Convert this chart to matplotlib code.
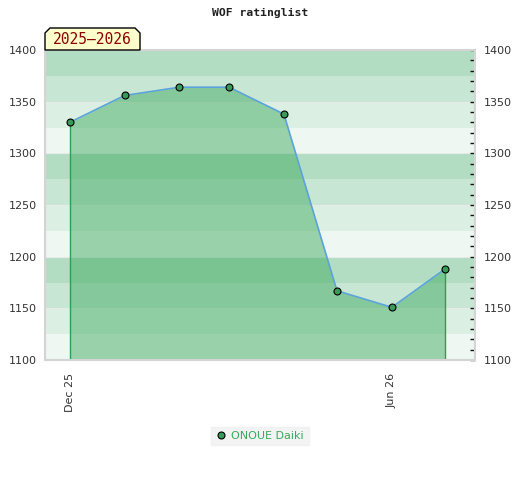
import datetime as dt
import matplotlib
matplotlib.use("Agg")
import matplotlib.pyplot as plt
import matplotlib.dates as mdates
from matplotlib.patches import Polygon
from matplotlib.ticker import MultipleLocator

# datos de la grafica
fechas = [dt.date(2025, 12, 1), dt.date(2026, 1, 1), dt.date(2026, 2, 1), dt.date(2026, 3, 1),
          dt.date(2026, 4, 1), dt.date(2026, 5, 1), dt.date(2026, 6, 1), dt.date(2026, 7, 1)]
rating = [1330, 1356, 1364, 1364, 1338, 1167, 1151, 1188]
jugador = "ONOUE Daiki"
temporada = "2025\u20132026"
titulo = "WOF ratinglist"
ymin, ymax = 1100, 1400
xmin, xmax = dt.date(2025, 11, 17), dt.date(2026, 7, 18)

colores_banda = {75: "#b3ddc3", 50: "#c8e6d4", 25: "#dcefe3", 0: "#eff7f2"}
verde = "#3aa85b"
azul = "#5ba3d9"

fig = plt.figure(figsize=(5.2, 4.8), dpi=100)
ax = fig.add_axes([45 / 520, 1 - 360 / 480, 430 / 520, 310 / 480])

# bandas horizontales de fondo
for y0 in range(ymin, ymax, 25):
    ax.axhspan(y0, y0 + 25, color=colores_banda[y0 % 100], lw=0, zorder=0)
for y in range(ymin + 50, ymax, 50):
    ax.axhline(y, color="#e6ebe8", lw=0.8, zorder=0.5)

# area bajo la curva
ax.fill_between(fechas, rating, ymin, color=verde, alpha=0.47, lw=0, zorder=1)
ax.vlines([fechas[0], fechas[-1]], ymin, [rating[0], rating[-1]], color="#2e9e52", lw=1, zorder=2)
ax.plot(fechas, rating, color=azul, lw=1.2, zorder=3)
ax.plot(fechas, rating, "o", color="#3a9a5a", mec="black", mew=0.8, ms=5, zorder=4, label=jugador)

ax.set_xlim(xmin, xmax)
ax.set_ylim(ymin, ymax)

# ejes
for lado in ["top", "left", "bottom", "right"]:
    ax.spines[lado].set_color("#d4d4d4")
    ax.spines[lado].set_linewidth(1.5)

ax.xaxis.set_major_locator(mdates.MonthLocator(bymonth=[12, 6]))
ax.xaxis.set_major_formatter(mdates.DateFormatter("%b %y"))
ax.tick_params(axis="x", length=0, labelsize=8, labelcolor="#333333", rotation=90, pad=9)

ax.yaxis.set_major_locator(MultipleLocator(50))
ax.yaxis.set_minor_locator(MultipleLocator(10))
ax.tick_params(axis="y", which="both", left=False, right=True, labelleft=True, labelright=True,
               direction="in", length=3.5, width=1, color="#111111", labelsize=8, labelcolor="#333333", pad=6)

fig.text(0.5, 1 - 13 / 480, titulo, ha="center", va="center", family="DejaVu Sans Mono",
         fontweight="bold", fontsize=8.2, color="#222222")

# etiqueta de temporada con esquinas cortadas
x0, x1 = 45 / 520, 140 / 520
y0, y1 = 1 - 50 / 480, 1 - 28 / 480
cx, cy = 5 / 520, 5 / 480
caja = Polygon([(x0, y0), (x0, y1 - cy), (x0 + cx, y1), (x1 - cx, y1), (x1, y1 - cy), (x1, y0)],
               closed=True, transform=fig.transFigure, facecolor="#ffffcc", edgecolor="black", lw=1)
fig.patches.append(caja)
fig.text((x0 + x1) / 2, (y0 + y1) / 2 - 0.002, temporada, ha="center", va="center",
         family="DejaVu Sans Mono", fontsize=10.5, color="#8b0000")

leg = fig.legend(loc="center", bbox_to_anchor=(0.5, 1 - 436 / 480), frameon=True, fontsize=8,
                 handletextpad=0.4, borderpad=0.4, handlelength=1.0, fancybox=False)
leg.get_frame().set_facecolor("#f0f0f0")
leg.get_frame().set_edgecolor("#f0f0f0")
for t in leg.get_texts():
    t.set_color("#3aa85b")

fig.savefig("out.png", dpi=100)
